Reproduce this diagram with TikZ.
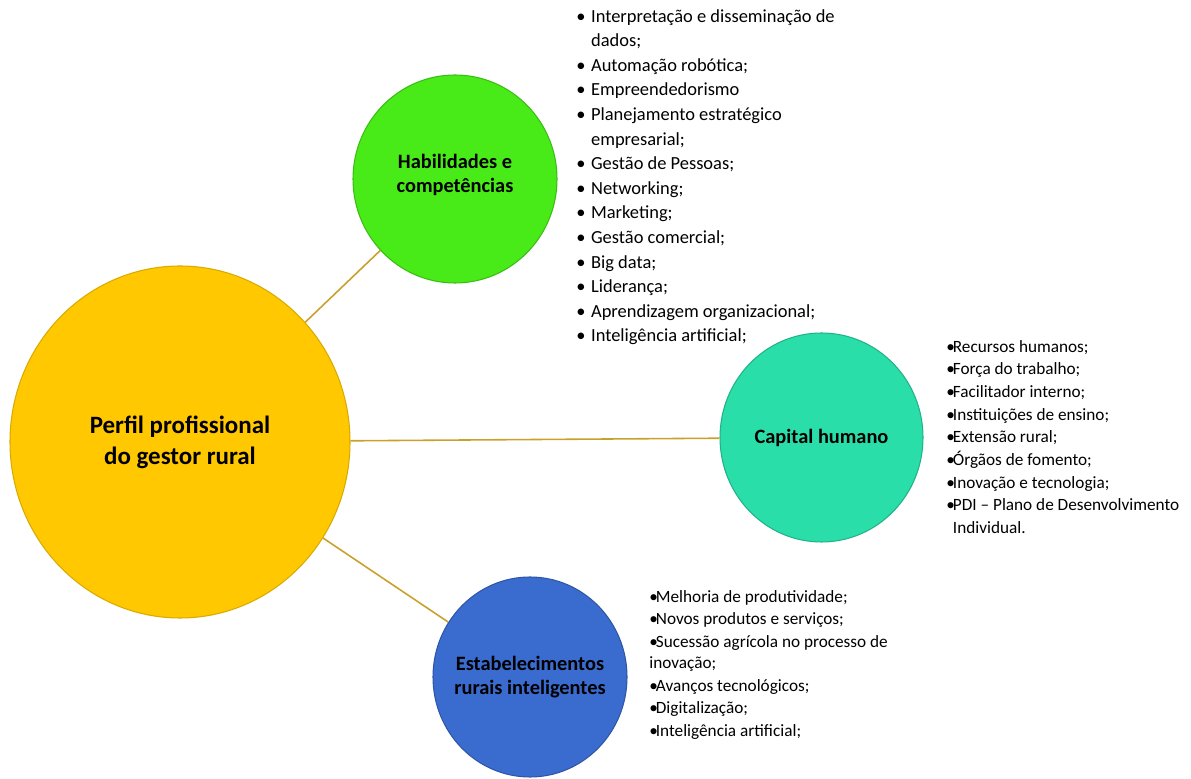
\documentclass[tikz,border=0pt]{standalone}
\usepackage{fontspec}
\setmainfont{Carlito}
\usetikzlibrary{shapes.geometric, positioning}
\definecolor{perfilgold}{HTML}{FFC800}
\definecolor{habgreen}{HTML}{48EB18}
\definecolor{capteal}{HTML}{2ADEAA}
\definecolor{estblue}{HTML}{3A6BCF}
\definecolor{linkgold}{HTML}{C9A02C}
\newcommand{\blt}{\makebox[0.8em][l]{\textbullet}}
\newcommand{\tblt}{\makebox[0.38em][l]{\textbullet}}

\begin{document}
\begin{tikzpicture}[
    bubble/.style={ellipse, inner sep=0pt, line width=0.6pt},
    bubbletext/.style={align=center, text=black, font=\fontsize{11.6}{13.3}\selectfont\bfseries},
    link/.style={draw=linkgold, line width=0.9pt},
    itemlist/.style={anchor=north west, align=left, inner sep=0pt, text=black}
  ]
  \useasboundingbox (0,0) rectangle (23.82,15.56);

  % bubbles
  \node[bubble, fill=perfilgold, draw=perfilgold!85!black, minimum width=6.8cm, minimum height=7.04cm] (perfil) at (3.6,6.72) {};
  \node[bubble, fill=habgreen, draw=habgreen!80!black, minimum width=4.08cm, minimum height=4.16cm] (hab) at (9.1,11.98) {};
  \node[bubble, fill=capteal, draw=capteal!80!black, minimum width=4.06cm, minimum height=4.18cm] (cap) at (16.43,6.81) {};
  \node[bubble, fill=estblue, draw=estblue!80!black, minimum width=3.88cm, minimum height=4.0cm] (est) at (10.6,2.02) {};

  % connectors
  \draw[link] (perfil) -- (hab);
  \draw[link] (perfil) -- (cap);
  \draw[link] (perfil) -- (est);

  % bubble titles
  \node[bubbletext, font=\fontsize{14.2}{17.6}\selectfont\bfseries] (perfilText) at (perfil) {Perfil profissional\\do gestor rural};
  \node[bubbletext] (habText) at ([yshift=0.08cm]hab.center) {Habilidades e\\competências};
  \node[bubbletext] (capText) at (cap) {Capital humano};
  \node[bubbletext] (estText) at (est) {Estabelecimentos\\rurais inteligentes};

  % item lists
  \node[itemlist, font=\fontsize{10.5}{14}\selectfont] (habList) at (11.52,15.38) {%
    \blt Interpretação e disseminação de\\
    \hspace*{0.8em}dados;\\
    \blt Automação robótica;\\
    \blt Empreendedorismo\\
    \blt Planejamento estratégico\\
    \hspace*{0.8em}empresarial;\\
    \blt Gestão de Pessoas;\\
    \blt Networking;\\
    \blt Marketing;\\
    \blt Gestão comercial;\\
    \blt Big data;\\
    \blt Liderança;\\
    \blt Aprendizagem organizacional;\\
    \blt Inteligência artificial;};
  \node[itemlist, font=\fontsize{9.8}{12.9}\selectfont] (capList) at (18.92,8.76) {%
    \tblt Recursos humanos;\\
    \tblt Força do trabalho;\\
    \tblt Facilitador interno;\\
    \tblt Instituições de ensino;\\
    \tblt Extensão rural;\\
    \tblt Órgãos de fomento;\\
    \tblt Inovação e tecnologia;\\
    \tblt PDI -- Plano de Desenvolvimento\\
    \hspace*{0.38em}Individual.};
  \node[itemlist, font=\fontsize{9.8}{12.9}\selectfont] (estList) at (12.98,3.76) {%
    \tblt Melhoria de produtividade;\\
    \tblt Novos produtos e serviços;\\
    \tblt Sucessão agrícola no processo de\\[-1pt]
    inovação;\\
    \tblt Avanços tecnológicos;\\
    \tblt Digitalização;\\
    \tblt Inteligência artificial;};
\end{tikzpicture}
\end{document}
